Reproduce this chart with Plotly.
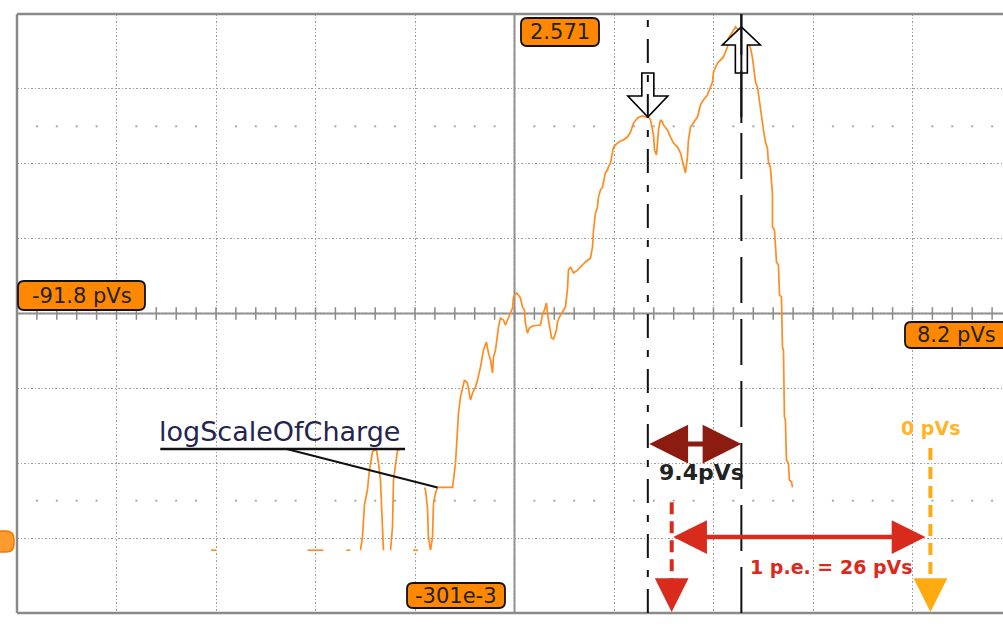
import numpy as np
import plotly.graph_objects as go

# ---------------------------------------------------------------- data
# Screen extents: charge (pVs) horizontally, log10 of counts vertically
X_LEFT, X_RIGHT = -91.8, 8.2
Y_BOTTOM, Y_TOP = -0.301, 2.571
X_DIVS, Y_DIVS = 10, 8

# Readout labels shown at the screen edges
X_LEFT_LABEL = "-91.8 pVs"
X_RIGHT_LABEL = "8.2 pVs"
Y_TOP_LABEL = "2.571"
Y_BOTTOM_LABEL = "-301e-3"
CHANNEL_NAME = "logScaleOfCharge"

# Isolated single-count bins (log10(1) = 0), as (start, end) in pVs
SINGLE_BINS = [(-72.3, -71.8), (-62.6, -61.0), (-58.7, -58.3), (-52.0, -51.5)]

# Low-count spikes on the left of the distribution (pVs, log10 count)
SPIKE_1 = [(-57.28, 0.0), (-57.08, 0.063), (-56.88, 0.217), (-56.58, 0.289),
           (-56.38, 0.385), (-56.07, 0.471), (-55.87, 0.48), (-55.67, 0.48),
           (-55.47, 0.418), (-55.27, 0.337), (-55.07, 0.111), (-54.97, 0.0)]
SPIKE_2 = [(-54.26, 0.0), (-54.06, 0.111), (-53.96, 0.337), (-53.76, 0.418),
           (-53.56, 0.48), (-53.36, 0.48)]

# Main body of the charge histogram (pVs, log10 count)
MAIN = [
    (-50.85, 0.301), (-50.75, 0.289), (-50.55, 0.207), (-50.45, 0.063), (-50.24, 0.0),
    (-50.04, 0.063), (-49.94, 0.226), (-49.74, 0.274), (-49.54, 0.301), (-48.03, 0.301),
    (-47.93, 0.337), (-47.73, 0.418), (-47.53, 0.576), (-47.43, 0.658), (-47.23, 0.734),
    (-47.03, 0.782), (-46.83, 0.816), (-46.53, 0.802), (-46.22, 0.720), (-46.02, 0.754),
    (-45.72, 0.782), (-45.52, 0.816), (-45.22, 0.878), (-44.92, 0.960), (-44.62, 0.998),
    (-44.42, 0.945), (-44.21, 0.912), (-44.01, 0.850), (-43.91, 0.926), (-43.71, 0.960),
    (-43.51, 1.041), (-43.41, 1.070), (-43.21, 1.113), (-42.91, 1.104), (-42.71, 1.080),
    (-42.41, 1.118), (-42.20, 1.142), (-42.00, 1.161), (-41.90, 1.214), (-41.60, 1.233),
    (-41.40, 1.224), (-41.20, 1.209), (-41.00, 1.166), (-40.80, 1.152), (-40.70, 1.089),
    (-40.50, 1.041), (-40.30, 1.065), (-39.99, 1.075), (-39.19, 1.080), (-38.99, 1.128),
    (-38.79, 1.152), (-38.59, 1.185), (-38.49, 1.137), (-38.29, 1.070), (-38.08, 1.018),
    (-37.88, 1.013), (-37.58, 1.056), (-37.48, 1.094), (-37.28, 1.118), (-36.98, 1.142),
    (-36.68, 1.166), (-36.48, 1.248), (-36.38, 1.343), (-36.17, 1.358), (-35.87, 1.329),
    (-35.47, 1.343), (-35.17, 1.358), (-34.67, 1.382), (-34.16, 1.401), (-33.96, 1.454),
    (-33.86, 1.535), (-33.66, 1.617), (-33.46, 1.646), (-33.36, 1.693), (-33.16, 1.727),
    (-32.96, 1.741), (-32.86, 1.765), (-32.66, 1.809), (-32.46, 1.823), (-32.36, 1.838),
    (-32.15, 1.857), (-31.95, 1.905), (-31.85, 1.933), (-31.45, 1.952), (-31.15, 1.962),
    (-30.85, 1.967), (-30.45, 1.981), (-30.14, 2.005), (-29.94, 2.029), (-29.84, 2.048),
    (-29.44, 2.072), (-28.94, 2.082), (-28.54, 2.077), (-28.34, 2.077), (-28.13, 2.063),
    (-27.83, 1.991), (-27.73, 1.919), (-27.53, 1.895), (-27.43, 1.952), (-27.33, 2.015),
    (-27.13, 2.063), (-26.93, 2.053), (-26.83, 2.039), (-26.43, 2.015), (-26.12, 1.981),
    (-25.82, 1.952), (-25.42, 1.933), (-25.12, 1.905), (-24.82, 1.847), (-24.62, 1.809),
    (-24.42, 1.885), (-24.32, 1.967), (-24.11, 2.029), (-23.81, 2.048), (-23.41, 2.077),
    (-23.11, 2.135), (-22.81, 2.159), (-22.41, 2.183), (-22.10, 2.221), (-21.90, 2.245),
    (-21.80, 2.293), (-21.40, 2.336), (-21.10, 2.350), (-20.80, 2.365), (-20.40, 2.413),
    (-20.30, 2.456), (-19.89, 2.485), (-19.59, 2.509), (-19.29, 2.494), (-18.89, 2.485),
    (-18.59, 2.470), (-18.29, 2.437), (-18.08, 2.408), (-17.88, 2.360), (-17.78, 2.312),
    (-17.58, 2.245), (-17.38, 2.221), (-17.28, 2.183), (-17.08, 2.120), (-16.88, 2.053),
    (-16.78, 2.015), (-16.58, 1.957), (-16.38, 1.928), (-16.28, 1.861), (-16.07, 1.833),
    (-15.87, 1.703), (-15.87, 1.550), (-15.67, 1.535), (-15.47, 1.382), (-15.27, 1.367),
    (-15.17, 1.224), (-14.97, 1.214), (-14.87, 0.974), (-14.77, 0.960), (-14.67, 0.639),
    (-14.57, 0.624), (-14.47, 0.432), (-14.27, 0.418), (-14.17, 0.337), (-13.96, 0.327),
    (-13.86, 0.301),
]

# Cursor measurement and single photo-electron annotation (pVs)
CURSOR_1 = -28.4
CURSOR_DELTA = 9.4
ZERO_CHARGE = 0.0
PE_CHARGE = 26.0

# ---------------------------------------------------------------- layout
W, H = 1003, 627
PLOT_L, PLOT_T, PLOT_W, PLOT_H = 17, 14, 986, 599
SCREEN_W = 995                      # full scope screen width in px (cut at the window edge)
PX_PER_X = SCREEN_W / (X_RIGHT - X_LEFT)
PX_PER_Y = PLOT_H / (Y_TOP - Y_BOTTOM)
X_VIEW_MAX = X_LEFT + PLOT_W / PX_PER_X
X_DIV = (X_RIGHT - X_LEFT) / X_DIVS
Y_DIV = (Y_TOP - Y_BOTTOM) / Y_DIVS
X_MID = X_LEFT + X_DIV * X_DIVS / 2
Y_MID = Y_BOTTOM + Y_DIV * Y_DIVS / 2

FONT = "DejaVu Sans"
ORANGE = "#ff8c20"
GRID = "#9c9c9c"
FRAME = "#8a8a8a"


def paper_x(px):
    return (px - PLOT_L) / PLOT_W


def paper_y(py):
    return (PLOT_T + PLOT_H - py) / PLOT_H


def rounded_box(x0, y0, x1, y1, r=6):
    X0, X1 = paper_x(x0), paper_x(x1)
    Y0, Y1 = paper_y(y1), paper_y(y0)
    rx, ry = r / PLOT_W, r / PLOT_H
    return (f"M{X0 + rx},{Y0} L{X1 - rx},{Y0} Q{X1},{Y0} {X1},{Y0 + ry} "
            f"L{X1},{Y1 - ry} Q{X1},{Y1} {X1 - rx},{Y1} L{X0 + rx},{Y1} "
            f"Q{X0},{Y1} {X0},{Y1 - ry} L{X0},{Y0 + ry} Q{X0},{Y0} {X0 + rx},{Y0} Z")


def glyph_path(x_tip, y_tip, offsets):
    pts = [(x_tip + dx / PX_PER_X, y_tip - dy / PX_PER_Y) for dx, dy in offsets]
    return "M" + " L".join(f"{x},{y}" for x, y in pts) + " Z"


# ---------------------------------------------------------------- trace
tx, ty = [], []
for a, b in SINGLE_BINS:
    tx += [a, b, None]
    ty += [0.0, 0.0, None]
for seg in (SPIKE_1, SPIKE_2, MAIN):
    tx += [p[0] for p in seg] + [None]
    ty += [p[1] for p in seg] + [None]

fig = go.Figure()

# minor ticks on the centre horizontal axis and the sparse marker rows
minor_x = X_LEFT + 2.0 * np.arange(1, 50)
fig.add_trace(go.Scatter(
    x=minor_x, y=np.full(minor_x.size, Y_MID), mode="markers", hoverinfo="skip",
    marker=dict(symbol="line-ns", size=9, line=dict(color=FRAME, width=1.5)),
    showlegend=False))
sparse_x = minor_x[np.arange(1, 50) % 5 != 0]
for yy in (Y_MID + 2.5 * Y_DIV, Y_MID - 2.5 * Y_DIV):
    fig.add_trace(go.Scatter(
        x=sparse_x, y=np.full(sparse_x.size, yy), mode="markers", hoverinfo="skip",
        marker=dict(symbol="square", size=2, color="#a8a8a8"), showlegend=False))

fig.add_trace(go.Scatter(
    x=tx, y=ty, mode="lines", line=dict(color=ORANGE, width=1.7),
    connectgaps=False, showlegend=False, hoverinfo="skip"))

main_x = np.array([p[0] for p in MAIN])
main_y = np.array([p[1] for p in MAIN])
CURSOR_2 = CURSOR_1 + CURSOR_DELTA
c1_y = float(np.interp(CURSOR_1, main_x, main_y))
c2_y = float(main_y.max())
RED_X = ZERO_CHARGE - PE_CHARGE

shapes = []
# centre cross
shapes.append(dict(type="line", xref="x", yref="paper", x0=X_MID, x1=X_MID, y0=0, y1=1,
                   line=dict(color=FRAME, width=2), layer="below"))
shapes.append(dict(type="line", xref="paper", yref="y", x0=0, x1=1, y0=Y_MID, y1=Y_MID,
                   line=dict(color=FRAME, width=2), layer="below"))
# screen frame (left, top, bottom)
for x0, y0, x1, y1 in ((0, 0, 0, 1), (0, 1, 1, 1), (0, 0, 1, 0)):
    shapes.append(dict(type="line", xref="paper", yref="paper", x0=x0, y0=y0, x1=x1, y1=y1,
                       line=dict(color=FRAME, width=2.5)))

# cursor glyphs
shapes.append(dict(type="path", xref="x", yref="y",
                   path=glyph_path(CURSOR_1, c1_y, [(0, 0), (-20, -21), (-6, -21), (-6, -44),
                                                    (6, -44), (6, -21), (20, -21)]),
                   fillcolor="white", line=dict(color="black", width=1.6)))
shapes.append(dict(type="path", xref="x", yref="y",
                   path=glyph_path(CURSOR_2, c2_y, [(0, 0), (-19, 18), (-6, 18), (-6, 46),
                                                    (6, 46), (6, 18), (19, 18)]),
                   fillcolor="white", line=dict(color="black", width=1.6)))
# cursor lines
shapes.append(dict(type="line", xref="x", yref="paper", x0=CURSOR_1, x1=CURSOR_1, y0=0, y1=1,
                   line=dict(color="#111", width=2, dash="24px,12px,7px,12px")))
shapes.append(dict(type="line", xref="x", yref="paper", x0=CURSOR_2, x1=CURSOR_2, y0=0, y1=1,
                   line=dict(color="#111", width=2, dash="46px,16px")))
shapes.append(dict(type="line", xref="x", yref="paper", x0=CURSOR_2, x1=CURSOR_2,
                   y0=paper_y(123), y1=1, line=dict(color="#111", width=2)))

# channel name underline and leader to the histogram
NAME_X0, NAME_X1, NAME_Y = -77.4, -52.8, 0.485
shapes.append(dict(type="line", xref="x", yref="y", x0=NAME_X0, x1=NAME_X1, y0=NAME_Y, y1=NAME_Y,
                   line=dict(color="#111", width=2.5)))
shapes.append(dict(type="line", xref="x", yref="y", x0=-64.7, y0=NAME_Y,
                   x1=MAIN[8][0], y1=MAIN[8][1], line=dict(color="#111", width=2)))

# photo-electron markers: dashed verticals
shapes.append(dict(type="line", xref="x", yref="y", x0=RED_X, x1=RED_X, y0=0.23, y1=-0.2,
                   line=dict(color="#d92b1d", width=4, dash="12px,7px")))
shapes.append(dict(type="line", xref="x", yref="y", x0=ZERO_CHARGE, x1=ZERO_CHARGE,
                   y0=0.49, y1=-0.2, line=dict(color="#ffab10", width=4, dash="12px,7px")))

# readout boxes
BOXES = [
    (X_LEFT_LABEL, (18, 281, 145, 310)),
    (Y_TOP_LABEL, (521, 18, 599, 46)),
    (X_RIGHT_LABEL, (905, 322, 1018, 348)),
    (Y_BOTTOM_LABEL, (407, 583, 505, 608)),
]
for _, (x0, y0, x1, y1) in BOXES:
    shapes.append(dict(type="path", xref="paper", yref="paper", path=rounded_box(x0, y0, x1, y1),
                       fillcolor="#ff8800", line=dict(color="#111", width=1.8)))
# channel offset marker, mostly off screen on the left
shapes.append(dict(type="path", xref="paper", yref="paper", path=rounded_box(-40, 531, 14, 552, 8),
                   fillcolor="#ff9a30", line=dict(color="#f07800", width=1.5)))

annotations = []
for text, (x0, y0, x1, y1) in BOXES:
    annotations.append(dict(xref="paper", yref="paper", x=paper_x((x0 + x1) / 2 if x1 < W else 956),
                            y=paper_y((y0 + y1) / 2), text=text, showarrow=False,
                            font=dict(family=FONT, size=21, color="#222"),
                            xanchor="center", yanchor="middle"))

annotations.append(dict(xref="x", yref="y", x=(NAME_X0 + NAME_X1) / 2 - 0.3, y=0.567,
                        text=CHANNEL_NAME, showarrow=False,
                        font=dict(family=FONT, size=27, color="#24244e"),
                        xanchor="center", yanchor="middle"))

# cursor delta arrow
annotations.append(dict(xref="x", yref="y", axref="x", ayref="y", x=CURSOR_2, y=0.509,
                        ax=CURSOR_1, ay=0.509, text="", showarrow=True, arrowside="end+start",
                        arrowhead=2, startarrowhead=2, arrowsize=1.55, startarrowsize=1.55,
                        arrowwidth=5, arrowcolor="#8c1c12", standoff=0, startstandoff=0))
annotations.append(dict(xref="x", yref="y", x=(CURSOR_1 + CURSOR_2) / 2 + 0.7, y=0.375,
                        text=f"<b>{CURSOR_DELTA:g}pVs</b>", showarrow=False,
                        font=dict(family=FONT, size=22, color="#222")))

# single photo-electron arrow
annotations.append(dict(xref="x", yref="y", axref="x", ayref="y", x=ZERO_CHARGE - 0.5, y=0.063,
                        ax=RED_X, ay=0.063, text="", showarrow=True, arrowside="end+start",
                        arrowhead=2, startarrowhead=2, arrowsize=1.5, startarrowsize=1.5,
                        arrowwidth=4.5, arrowcolor="#d92b1d", standoff=0, startstandoff=0))
annotations.append(dict(xref="x", yref="y", x=-9.9, y=-0.081,
                        text=f"<b>1 p.e. = {PE_CHARGE:g} pVs</b>", showarrow=False,
                        font=dict(family=FONT, size=19, color="#d92b1d")))
annotations.append(dict(xref="x", yref="y", x=ZERO_CHARGE, y=0.586,
                        text=f"<b>{ZERO_CHARGE:g} pVs</b>", showarrow=False,
                        font=dict(family=FONT, size=19, color="#ffb42a")))
for xx, col in ((RED_X, "#d92b1d"), (ZERO_CHARGE, "#ffab10")):
    annotations.append(dict(xref="x", yref="y", axref="x", ayref="y", x=xx, y=-0.296,
                            ax=xx, ay=-0.17, text="", showarrow=True, arrowhead=2,
                            arrowsize=1.5, arrowwidth=4.5, arrowcolor=col, standoff=0))

fig.update_layout(
    width=W, height=H,
    margin=dict(l=PLOT_L, r=W - PLOT_L - PLOT_W, t=PLOT_T, b=H - PLOT_T - PLOT_H, pad=0),
    paper_bgcolor="white", plot_bgcolor="white",
    showlegend=False,
    xaxis=dict(range=[X_LEFT, X_VIEW_MAX], tick0=X_LEFT, dtick=X_DIV, showgrid=True,
               gridcolor=GRID, gridwidth=1.3, griddash="1.5px,2px", zeroline=False,
               showticklabels=False, ticks="", showline=False, fixedrange=True),
    yaxis=dict(range=[Y_BOTTOM, Y_TOP], tick0=Y_BOTTOM, dtick=Y_DIV, showgrid=True,
               gridcolor=GRID, gridwidth=1.3, griddash="1.5px,2px", zeroline=False,
               showticklabels=False, ticks="", showline=False, fixedrange=True),
    shapes=shapes,
    annotations=annotations,
)

fig.write_html("out.html")
